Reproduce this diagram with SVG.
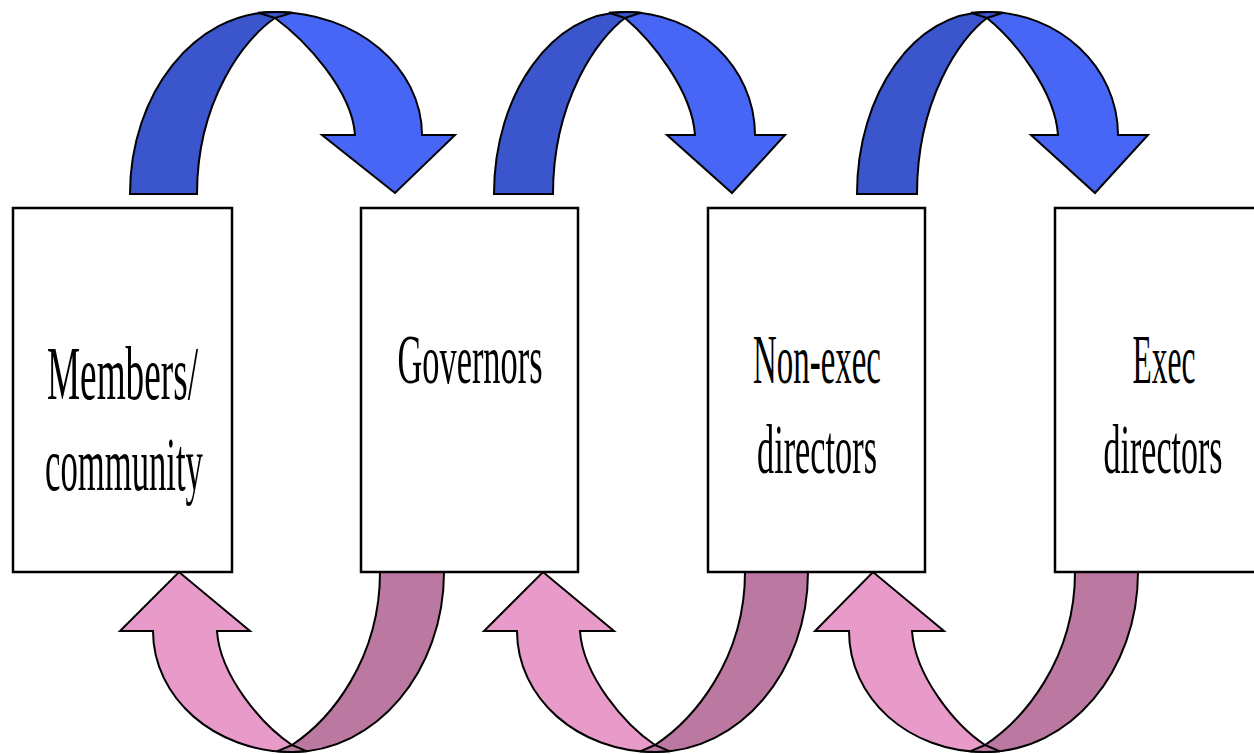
<svg xmlns="http://www.w3.org/2000/svg" width="1254" height="754" viewBox="0 0 1254 754">
<style>
.box{fill:#fff;stroke:#000;stroke-width:2.5}
.bd{fill:#3b55cc;stroke:#000;stroke-width:2}
.bl{fill:#4866f6;stroke:#000;stroke-width:2}
.pl{fill:#e89ac9;stroke:#000;stroke-width:2}
.pd{fill:#bb79a1;stroke:#000;stroke-width:2}
.edge{fill:none;stroke:#000;stroke-width:2}
.t{font-family:"Liberation Serif","Times New Roman",serif;fill:#000;text-anchor:middle}
</style>
<rect width="1254" height="754" fill="#fff"/>
<g id="connectors">
<g id="blue1">
<path class="bl" d="M258,12.8 Q266,12 275,12 C356,12 422,67 422,135 L455,135 L395,193 L322,135 L355,135 C352,90 305,40 275,18 Z"/>
<path class="bd" d="M130,194 C130,93 195,12 275,12 Q284,12 292,12.8 L275,18 C245,38 197,100 197,194 Z"/>
<path class="edge" d="M275,18 L258,12.8"/>
</g>
<g id="blue2">
<path class="bl" d="M609,12.8 Q617,12 625,12 C697,12 755,67 755,135 L785,135 L732,193 L667,135 L695,135 C692,90 651,40 625,18 Z"/>
<path class="bd" d="M494,194 C494,93 553,12 625,12 Q633,12 641,12.8 L625,18 C598,38 553,100 553,194 Z"/>
<path class="edge" d="M625,18 L609,12.8"/>
</g>
<g id="blue3">
<path class="bl" d="M971,12.8 Q979,12 987,12 C1059,12 1118,67 1118,135 L1148,135 L1095,193 L1031,135 L1058,135 C1055,90 1014,40 987,18 Z"/>
<path class="bd" d="M857,194 C857,93 915,12 987,12 Q995,12 1003,12.8 L987,18 C960,38 917,100 917,194 Z"/>
<path class="edge" d="M987,18 L971,12.8"/>
</g>
<g id="pink1">
<path class="pl" d="M307,751.3 Q300,752 292,752 C215,752 153,698 153,631 L120,631 L179,572 L250,631 L217,631 C220,676 262,725 292,745 Z"/>
<path class="pd" d="M380,572 L444,572 C444,671 376,752 292,752 Q284,752 277,751.3 L292,745 C330,720 380,660 380,572 Z"/>
<path class="edge" d="M292,745 L307,751.3"/>
</g>
<g id="pink2">
<path class="pl" d="M670,751.3 Q663,752 655,752 C578,752 517,698 517,631 L484,631 L543,572 L614,631 L580,631 C583,676 625,725 655,745 Z"/>
<path class="pd" d="M745,572 L808,572 C808,671 740,752 655,752 Q647,752 640,751.3 L655,745 C693,720 745,660 745,572 Z"/>
<path class="edge" d="M655,745 L670,751.3"/>
</g>
<g id="pink3">
<path class="pl" d="M1000,751.3 Q993,752 985,752 C908,752 849,698 849,631 L815,631 L873,572 L944,631 L912,631 C915,676 955,725 985,745 Z"/>
<path class="pd" d="M1075,572 L1138,572 C1138,671 1070,752 985,752 Q977,752 970,751.3 L985,745 C1023,720 1075,660 1075,572 Z"/>
<path class="edge" d="M985,745 L1000,751.3"/>
</g>
</g>
<g id="members">
<rect class="box" x="13" y="208" width="219" height="364"/>
<text class="t" font-size="76" transform="translate(122.5,399) scale(0.49,1)">Members/</text>
<text class="t" font-size="76" transform="translate(124,490) scale(0.456,1)">community</text>
</g>
<g id="governors">
<rect class="box" x="361" y="208" width="217" height="364"/>
<text class="t" font-size="70" transform="translate(470,383) scale(0.491,1)">Governors</text>
</g>
<g id="nonexec">
<rect class="box" x="708" y="208" width="217" height="364"/>
<text class="t" font-size="70" transform="translate(817,383) scale(0.47,1)">Non-exec</text>
<text class="t" font-size="70" transform="translate(817,473) scale(0.49,1)">directors</text>
</g>
<g id="exec">
<rect class="box" x="1055" y="208" width="219" height="364"/>
<text class="t" font-size="70" transform="translate(1164,383) scale(0.45,1)">Exec</text>
<text class="t" font-size="70" transform="translate(1163,473) scale(0.486,1)">directors</text>
</g>
</svg>
